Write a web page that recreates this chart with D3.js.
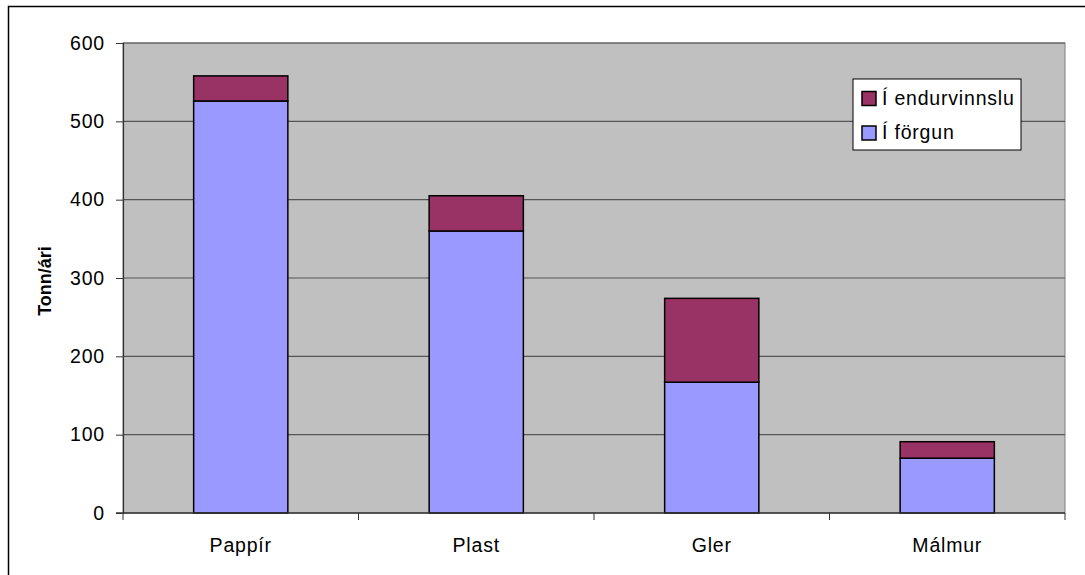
<!DOCTYPE html>
<html>
<head>
<meta charset="utf-8">
<script src="https://cdn.jsdelivr.net/npm/d3@7"></script>
<style>
  body { margin: 0; background: #fff; }
  text { font-family: "Liberation Sans", Arial, sans-serif; }
</style>
</head>
<body>
<div id="chart"></div>
<script>
const categories = ["Pappír", "Plast", "Gler", "Málmur"];
const forgun = [526, 360, 167, 70];          // Í förgun
const endurvinnsla = [32, 45, 107, 21];     // Í endurvinnslu
const yTicks = [0, 100, 200, 300, 400, 500, 600];

const width = 1085, height = 575;
const plot = { left: 123, right: 1065, top: 43, bottom: 513 };
const fontSize = 19.5, spacing = 0.8; // the old Excel look has loose letters

const svg = d3.select("#chart")
    .append("svg")
    .attr("width", width)
    .attr("height", height);

// outer chart border (runs off right/bottom like the original)
svg.append("rect")
    .attr("x", 8.5).attr("y", 6.5)
    .attr("width", width).attr("height", height)
    .attr("fill", "white")
    .attr("stroke", "black")
    .attr("stroke-width", 1.5);

const x = d3.scaleBand()
    .domain(categories)
    .range([plot.left, plot.right])
    .paddingInner(0.6)
    .paddingOuter(0.3); // gives ~95px wide bars

const y = d3.scaleLinear()
    .domain([0, 600])
    .range([plot.bottom, plot.top]);

// grey plot area
svg.append("rect")
    .attr("x", plot.left).attr("y", plot.top)
    .attr("width", plot.right - plot.left)
    .attr("height", plot.bottom - plot.top)
    .attr("fill", "#c0c0c0")
    .attr("stroke", "#808080");

// gridlines
svg.append("g")
    .selectAll("line")
    .data(yTicks.filter(t => t > 0))
    .join("line")
    .attr("x1", plot.left).attr("x2", plot.right)
    .attr("y1", d => y(d)).attr("y2", d => y(d))
    .attr("stroke", "#555")
    .attr("stroke-width", 1.2);

// stacked bars
const rows = categories.map((c, i) => ({ cat: c, forgun: forgun[i], endurvinnsla: endurvinnsla[i] }));
const stack = d3.stack().keys(["forgun", "endurvinnsla"])(rows);
const colors = { forgun: "#9999ff", endurvinnsla: "#993366" };

svg.append("g")
    .selectAll("g")
    .data(stack)
    .join("g")
    .attr("fill", d => colors[d.key])
    .selectAll("rect")
    .data(d => d)
    .join("rect")
    .attr("x", d => x(d.data.cat))
    .attr("y", d => y(d[1]))
    .attr("width", x.bandwidth())
    .attr("height", d => y(d[0]) - y(d[1]))
    .attr("stroke", "black")
    .attr("stroke-width", 1.5);

// y axis
const yAxis = svg.append("g")
    .attr("transform", `translate(${plot.left},0)`)
    .call(d3.axisLeft(y).tickValues(yTicks).tickSize(7).tickPadding(11));
yAxis.select(".domain").attr("stroke", "#333").attr("stroke-width", 1.2);
yAxis.selectAll(".tick line").attr("stroke", "#333");
yAxis.selectAll("text")
    .attr("font-size", fontSize)
    .attr("letter-spacing", spacing)
    .attr("fill", "black")
    .style("font-family", "Liberation Sans, Arial, sans-serif");

// x axis with ticks between categories
const boundaries = d3.range(categories.length + 1).map(i => plot.left + (plot.right - plot.left) * i / categories.length);
const xAxis = svg.append("g");
xAxis.append("line")
    .attr("x1", plot.left - 7).attr("x2", plot.right)
    .attr("y1", plot.bottom).attr("y2", plot.bottom)
    .attr("stroke", "#333").attr("stroke-width", 1.5);
xAxis.selectAll(".bt")
    .data(boundaries)
    .join("line")
    .attr("x1", d => d).attr("x2", d => d)
    .attr("y1", plot.bottom).attr("y2", plot.bottom + 7)
    .attr("stroke", "#333");
xAxis.selectAll("text")
    .data(categories)
    .join("text")
    .attr("x", d => x(d) + x.bandwidth() / 2)
    .attr("y", 552)
    .attr("text-anchor", "middle")
    .attr("font-size", fontSize)
    .attr("letter-spacing", spacing)
    .text(d => d);

// y axis title
svg.append("text")
    .attr("transform", "translate(51,281) rotate(-90)")
    .attr("text-anchor", "middle")
    .attr("font-size", 18)
    .attr("font-weight", "bold")
    .text("Tonn/ári");

// legend
const legend = svg.append("g").attr("transform", "translate(853,79)");
legend.append("rect")
    .attr("width", 168).attr("height", 71)
    .attr("fill", "white").attr("stroke", "black");
const legendItems = [
    { label: "Í endurvinnslu", color: colors.endurvinnsla },
    { label: "Í förgun", color: colors.forgun }
];
legendItems.forEach((d, i) => {
    legend.append("rect")
        .attr("x", 9).attr("y", 12.5 + i * 34.5)
        .attr("width", 14).attr("height", 14)
        .attr("fill", d.color)
        .attr("stroke", "black").attr("stroke-width", 1.5);
    legend.append("text")
        .attr("x", 29).attr("y", 25.5 + i * 34)
        .attr("font-size", fontSize)
        .attr("letter-spacing", spacing)
        .text(d.label);
});
</script>
</body>
</html>
